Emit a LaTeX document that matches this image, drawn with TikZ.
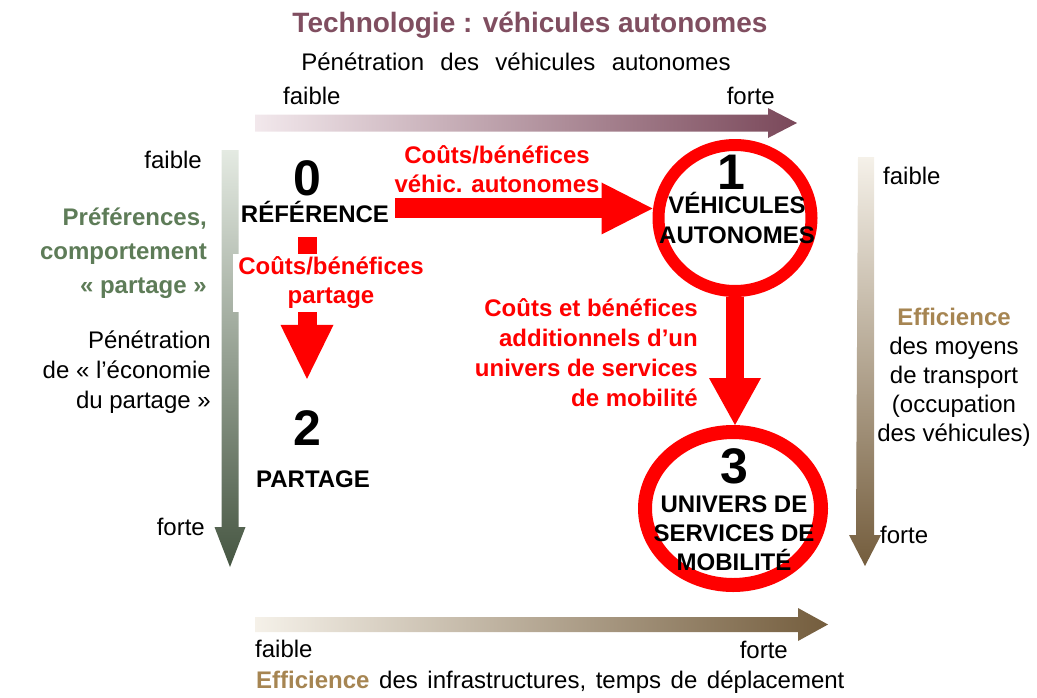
\documentclass[tikz,border=0pt]{standalone}
\usepackage{fontspec}
\setmainfont{Liberation Sans}
\usetikzlibrary{arrows.meta,shapes.geometric,calc}
\definecolor{titlec}{RGB}{128,78,96}
\definecolor{topL}{RGB}{242,232,236}
\definecolor{topR}{RGB}{122,72,90}
\definecolor{greenc}{RGB}{94,124,88}
\definecolor{leftT}{RGB}{228,234,226}
\definecolor{leftB}{RGB}{70,86,66}
\definecolor{goldc}{RGB}{166,133,82}
\definecolor{brT}{RGB}{245,241,233}
\definecolor{brB}{RGB}{116,93,61}
\definecolor{pured}{RGB}{255,0,0}
\newcommand\ml[2]{\begin{tabular}[t]{@{}#1@{}}#2\end{tabular}}
\newcommand\widesp{\spaceskip 0.68em\relax}
\newcommand\midsp{\spaceskip 0.4em\relax}
\begin{document}
\begin{tikzpicture}[x=1pt,y=-1pt,
  txt/.style={inner sep=0pt, anchor=base, font=\fontsize{24}{30}\selectfont},
  bold/.style={txt, font=\fontsize{24}{30}\selectfont\bfseries},
  rlab/.style={txt, font=\fontsize{24}{29}\selectfont\bfseries, text=pured},
  big/.style={txt, font=\fontsize{50}{60}\selectfont\bfseries},
  ring/.style={ellipse, draw=pured, inner sep=0pt},
  redarrow/.style={draw=pured}]
\useasboundingbox (0,0) rectangle (1037,697);
% gradient axis arrows
\shade[left color=topL, right color=topR]
  (255,114.5) -- (768,114.5) -- (768,108) -- (797,123) -- (768,138) -- (768,131.5) -- (255,131.5) -- cycle;
\shade[top color=leftT, bottom color=leftB]
  (221.5,150) -- (238.5,150) -- (238.5,527) -- (245.5,527) -- (230,567) -- (214.5,527) -- (221.5,527) -- cycle;
\shade[top color=brT, bottom color=brB]
  (858,157) -- (874,157) -- (874,535) -- (881,535) -- (865,566) -- (849,535) -- (856,535) -- cycle;
\shade[left color=brT, right color=brB]
  (255,617) -- (798,617) -- (798,608) -- (828,624.5) -- (798,641) -- (798,632) -- (255,632) -- cycle;
% title and axis labels
\node[txt, font=\fontsize{28}{34}\selectfont\bfseries, text=titlec] (title) at (530,32) {Technologie : véhicules autonomes};
\node[txt, font={\fontsize{24}{30}\selectfont\widesp}] (pen) at (516,70) {Pénétration des véhicules autonomes};
\node[txt, anchor=base west] (tfa) at (283,104) {faible};
\node[txt, anchor=base east] (tfo) at (775,104) {forte};
\node[txt, anchor=base east] (lfa) at (202,168) {faible};
\node[txt, anchor=base east, font=\fontsize{24}{34}\selectfont\bfseries, text=greenc] (pref) at (207,225) {\ml{r}{Préférences,\\comportement\\« partage »}};
\node[txt, anchor=base east] (penl) at (211,348) {\ml{r}{Pénétration\\de « l’économie\\du partage »}};
\node[txt, anchor=base east] (lfo) at (205,535) {forte};
\node[txt, anchor=base west] (rfa) at (883,184) {faible};
\node[txt, font=\fontsize{24}{29}\selectfont] (reff) at (954,325) {\ml{c}{{\color{goldc}\bfseries Efficience}\\des moyens\\de transport\\(occupation\\des véhicules)}};
\node[txt, anchor=base west] (rfo) at (880,543) {forte};
\node[txt, anchor=base west] (bfa) at (255,657) {faible};
\node[txt, anchor=base east] (bfo) at (788,658) {forte};
\node[txt, anchor=base west, font={\fontsize{24}{30}\selectfont\midsp}] (beff) at (256,688) {{\color{goldc}\bfseries Efficience} des infrastructures, temps de déplacement};
% scenario nodes
\node[big] (n0) at (307,195) {0};
\node[bold] (ref) at (315,222) {RÉFÉRENCE};
\node[big] (n2) at (307,445) {2};
\node[bold] (part) at (313,487) {PARTAGE};
\node[ring, line width=12pt, minimum width=153pt, minimum height=146pt] (c1) at (735,218) {};
\node[ring, line width=14pt, minimum width=176pt, minimum height=153pt] (c3) at (733,508.5) {};
\node[big] (n1) at (731,189) {1};
\node[bold] (t1) at (737,213) {\ml{c}{VÉHICULES\\AUTONOMES}};
\node[big] (n3) at (734,483) {3};
\node[bold, font=\fontsize{24}{29}\selectfont\bfseries] (t3) at (734,512) {\ml{c}{UNIVERS DE\\SERVICES DE\\MOBILITÉ}};
% red connectors
\coordinate (rs) at ($(ref.east)+(6,-3)$);
\draw[redarrow, line width=20pt, -{Triangle[length=51pt,width=52pt,line width=0pt]}] (rs) -- (rs -| c1.west);
\draw[redarrow, line width=18pt, -{Triangle[length=47pt,width=52pt,line width=0pt]}] (c1.south) -- (c1.south |- c3.north);
\coordinate (ds) at ($(n0.south |- ref.south)+(0,15)$);
\coordinate (de) at ($(n2.north)+(0,-31)$);
\draw[redarrow, line width=19pt, -{Triangle[length=54pt,width=53pt,line width=0pt]}] (ds) -- (de);
% red labels
\node[rlab, fill=white, inner xsep=5pt] (lblp) at (331,274) {\ml{c}{Coûts/bénéfices\\partage}};
\node[rlab] (lblv) at (497,163) {\ml{c}{Coûts/bénéfices\\véhic. autonomes}};
\node[rlab, anchor=base east, font=\fontsize{24}{30}\selectfont\bfseries] (lbl3) at (698,316) {\ml{r}{Coûts et bénéfices\\additionnels d’un\\univers de services\\de mobilité}};
\end{tikzpicture}
\end{document}
